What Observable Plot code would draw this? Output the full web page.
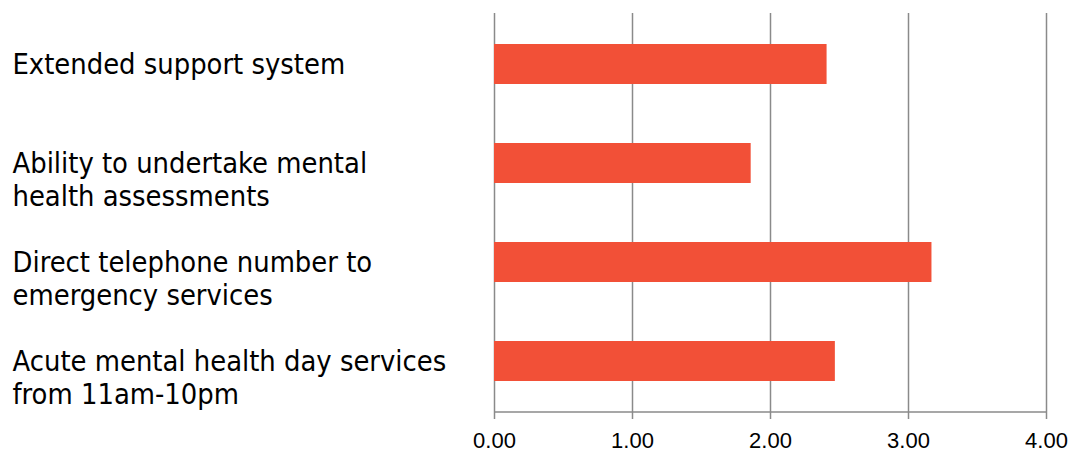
<!DOCTYPE html>
<html>
<head>
<meta charset="utf-8">
<script src="https://cdn.jsdelivr.net/npm/d3@7"></script>
<script src="https://cdn.jsdelivr.net/npm/@observablehq/plot@0.6"></script>
<style>
  html, body { margin: 0; padding: 0; background: #fff; }
</style>
</head>
<body>
<div id="chart"></div>
<script>
const categories = [
  "Extended support system",
  "Ability to undertake mental\nhealth assessments",
  "Direct telephone number to\nemergency services",
  "Acute mental health day services\nfrom 11am-10pm"
];
const values = [2.41, 1.86, 3.17, 2.47];
const xTicks = [0, 1, 2, 3, 4];

const data = categories.map((c, i) => ({category: c, value: values[i]}));

const gray = "#8a8a8a";

// baseline of the x axis, drawn from the x scale and frame dimensions
function axisLine(index, scales, values, dimensions) {
  const {height, marginBottom} = dimensions;
  const y = height - marginBottom;
  const line = document.createElementNS("http://www.w3.org/2000/svg", "line");
  line.setAttribute("x1", scales.x(xTicks[0]));
  line.setAttribute("x2", scales.x(xTicks[xTicks.length - 1]));
  line.setAttribute("y1", y);
  line.setAttribute("y2", y);
  line.setAttribute("stroke", gray);
  line.setAttribute("stroke-width", 1.5);
  return line;
}

const chart = Plot.plot({
  width: 1073,
  height: 455,
  marginLeft: 494,
  marginRight: 27,
  marginTop: 13,
  marginBottom: 43,
  style: {background: "#fff"},
  x: {domain: [0, 4], axis: null},
  y: {domain: categories, paddingInner: 0.6, paddingOuter: 0.3, axis: null},
  marks: [
    Plot.gridX(xTicks, {stroke: gray, strokeOpacity: 1, strokeWidth: 1.5}),
    axisLine,
    Plot.axisX(xTicks, {
      tickSize: 7, tickPadding: 13, stroke: gray, strokeWidth: 1.5,
      tickFormat: d => d.toFixed(2), fontSize: 22, fill: "#000",
      fontFamily: "Liberation Sans", label: null
    }),
    Plot.barX(data, {x: "value", y: "category", fill: "#F25037"}),
    Plot.text(data, {
      y: "category", text: "category", frameAnchor: "left", dx: -482,
      textAnchor: "start", lineAnchor: "top", dy: -13.5, lineHeight: 1.13,
      fontSize: 28.8, fill: "#000", fontFamily: "DejaVu Sans Condensed"
    })
  ]
});
document.getElementById("chart").appendChild(chart);
</script>
</body>
</html>
